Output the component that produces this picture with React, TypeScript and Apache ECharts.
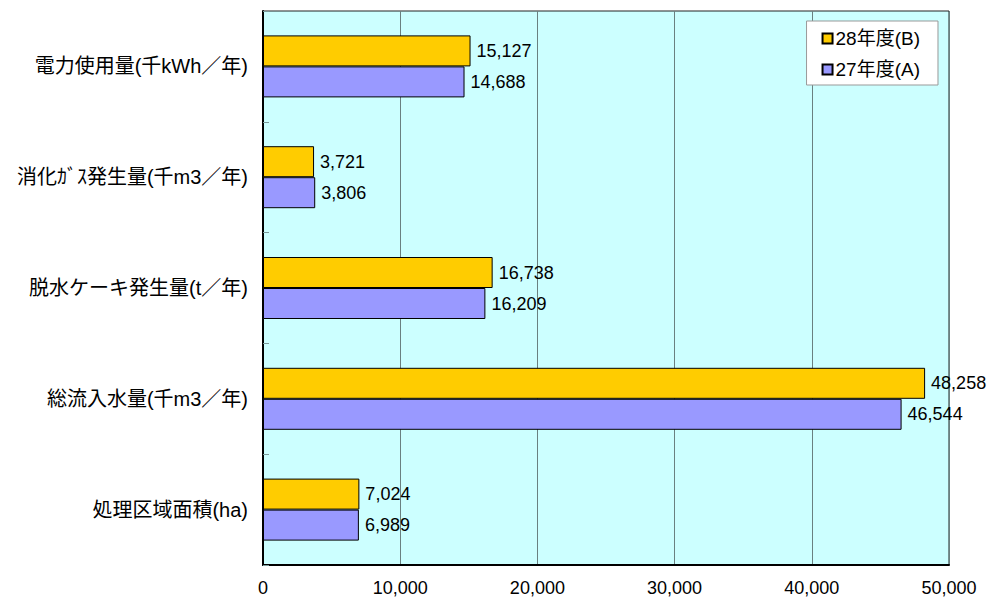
import React, { useEffect, useRef } from "react";
import * as echarts from "echarts";

// Categories, top to bottom as shown in the chart
const categories = [
  "電力使用量(千kWh／年)",
  "消化ｶﾞｽ発生量(千m3／年)",
  "脱水ケーキ発生量(t／年)",
  "総流入水量(千m3／年)",
  "処理区域面積(ha)",
];
const seriesB = [15127, 3721, 16738, 48258, 7024]; // 28年度(B)
const seriesA = [14688, 3806, 16209, 46544, 6989]; // 27年度(A)
const nameB = "28年度(B)";
const nameA = "27年度(A)";
const xTicks = { min: 0, max: 50000, interval: 10000 };

const fmt = (v: number) => v.toLocaleString("en-US");

export default function App() {
  const ref = useRef<HTMLDivElement>(null);
  useEffect(() => {
    if (!ref.current) return;
    const chart = echarts.init(ref.current, undefined, { renderer: "svg" });
    // ECharts category y-axis starts at the bottom, so reverse
    const cats = [...categories].reverse();
    const b = [...seriesB].reverse();
    const a = [...seriesA].reverse();
    const labelStyle = {
      show: true,
      position: "right" as const,
      distance: 6,
      color: "#000",
      fontSize: 18,
      fontFamily: "Liberation Sans, Arial, sans-serif",
      formatter: (p: any) => fmt(p.value),
    };
    chart.setOption({
      animation: false,
      backgroundColor: "#ffffff",
      grid: {
        left: 263,
        top: 11,
        right: 47,
        bottom: 35,
        show: true,
        backgroundColor: "#CCFFFF",
        borderColor: "#222",
        borderWidth: 1,
        containLabel: false,
      },
      legend: {
        data: [nameB, nameA],
        orient: "vertical",
        right: 58,
        top: 21,
        icon: "rect",
        backgroundColor: "#ffffff",
        borderColor: "#999",
        borderWidth: 1,
        padding: [8, 18, 6, 15],
        itemGap: 12,
        itemWidth: 10,
        itemHeight: 10,
        textStyle: {
          fontSize: 19,
          color: "#000",
          fontFamily: "Liberation Sans, Noto Sans CJK JP, sans-serif",
          padding: [0, 0, 0, -2],
        },
      },
      xAxis: {
        type: "value",
        min: xTicks.min,
        max: xTicks.max,
        interval: xTicks.interval,
        axisLine: { show: true, lineStyle: { color: "#000", width: 2 } },
        axisTick: { show: false },
        axisLabel: {
          color: "#000",
          fontSize: 18,
          margin: 14,
          fontFamily: "Liberation Sans, Arial, sans-serif",
          formatter: (v: number) => fmt(v),
        },
        splitLine: { show: true, lineStyle: { color: "#6a8080", width: 1 } },
      },
      yAxis: {
        type: "category",
        data: cats,
        axisLine: { show: true, lineStyle: { color: "#000", width: 2 } },
        axisTick: {
          show: true,
          inside: true,
          length: 6,
          lineStyle: { color: "#7a9a9a" },
        },
        axisLabel: {
          color: "#000",
          fontSize: 20,
          margin: 15,
          fontFamily: "Liberation Sans, Noto Sans CJK JP, sans-serif",
        },
        splitLine: { show: false },
      },
      series: [
        {
          name: nameB,
          type: "bar",
          data: b,
          barWidth: 31,
          barGap: "0%",
          itemStyle: { color: "#FFCC00", borderColor: "#000", borderWidth: 1 },
          label: labelStyle,
        },
        {
          name: nameA,
          type: "bar",
          data: a,
          barWidth: 31,
          barGap: "0%",
          itemStyle: { color: "#9999FF", borderColor: "#000", borderWidth: 1 },
          label: labelStyle,
        },
      ],
    });
    return () => chart.dispose();
  }, []);
  return (
    <div
      ref={ref}
      style={{ position: "absolute", left: 0, top: 0, width: 996, height: 600 }}
    />
  );
}
